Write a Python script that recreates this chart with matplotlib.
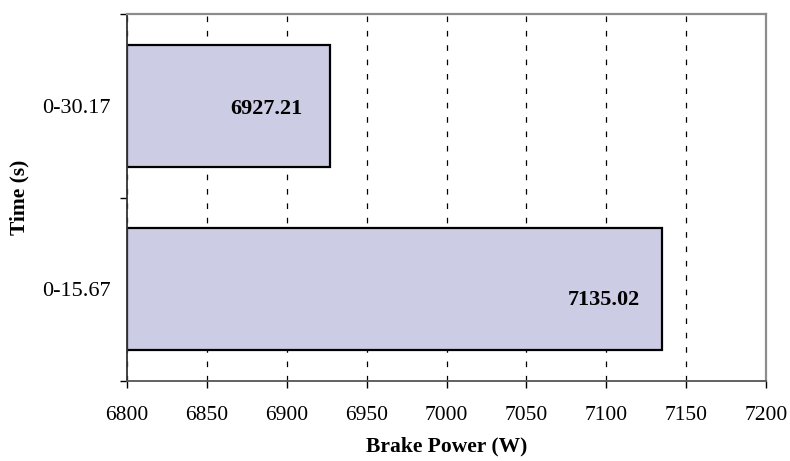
import matplotlib.pyplot as plt
import matplotlib.ticker as mticker

# data
categories = ['0-15.67', '0-30.17']
brake_power = [7135.02, 6927.21]
value_labels = ['7135.02', '6927.21']

plt.rcParams['font.family'] = ['Liberation Serif', 'DejaVu Serif']

fig = plt.figure(figsize=(7.9, 4.61), dpi=100)
ax = fig.add_axes([0.1608, 0.1735, 0.9696 - 0.1608, 0.9696 - 0.1735])

xmin = 6800
ypos = list(range(len(categories)))
widths = [v - xmin for v in brake_power]
ax.barh(ypos, widths, left=xmin, height=0.665, color='#CCCCE5',
        edgecolor='black', linewidth=1.6, zorder=2)

# value labels inside bar ends
for y, v, lab in zip(ypos, brake_power, value_labels):
    dy = -8 if y == 0 else -2
    off = -16 if y == 0 else -20
    ax.annotate(lab, xy=(v, y), xytext=(off, dy), textcoords='offset points',
                ha='right', va='center', fontsize=16, fontweight='bold', zorder=3)

ax.set_xlim(6800, 7200)
ax.set_ylim(-0.5, len(categories) - 0.5)
ax.xaxis.set_major_locator(mticker.MultipleLocator(50))

# category boundaries as ticks, labels on minor ticks
ax.set_yticks([i - 0.5 for i in range(len(categories) + 1)])
ax.set_yticklabels([])
ax.set_yticks(ypos, minor=True)
ax.set_yticklabels(categories, minor=True)
ax.tick_params(axis='y', which='major', length=5, width=1, direction='out')
ax.tick_params(axis='y', which='minor', length=0, pad=12, labelsize=16)
ax.tick_params(axis='x', length=5, width=1, direction='out', labelsize=15.5, pad=13)

ax.set_axisbelow(True)
ax.xaxis.grid(True, color='black', linewidth=0.9, linestyle=(0, (4.5, 7)))

for side in ['top', 'right']:
    ax.spines[side].set_color('#8c8c8c')
    ax.spines[side].set_linewidth(1.6)
ax.spines['left'].set_color('#333333')
ax.spines['left'].set_linewidth(1.3)
ax.spines['bottom'].set_color('#555555')
ax.spines['bottom'].set_linewidth(1.3)

ax.set_xlabel('Brake Power (W)', fontsize=15.5, fontweight='bold', labelpad=8)
ax.set_ylabel('Time (s)', fontsize=15.5, fontweight='bold', labelpad=9)

fig.savefig('out.png', dpi=100)
